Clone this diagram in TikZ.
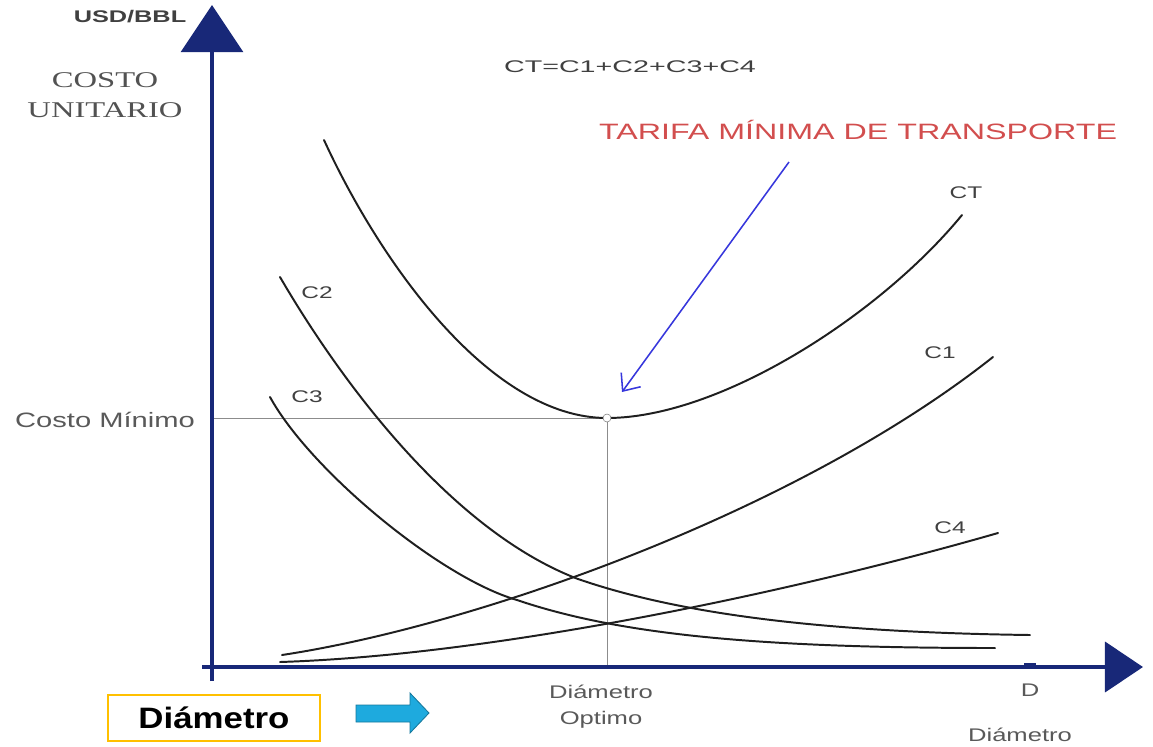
\documentclass[tikz,border=0pt]{standalone}
\usepackage{graphicx}
\usepackage{fontspec}
\setmainfont{Liberation Sans}
\newfontfamily\timesfont{Liberation Serif}
\usepackage{tikz}
\usetikzlibrary{arrows.meta, positioning}
\definecolor{axisblue}{RGB}{24,40,120}
\definecolor{tarifared}{RGB}{210,78,78}
\definecolor{pointblue}{RGB}{55,55,220}
\definecolor{boxorange}{RGB}{255,192,0}
\definecolor{arrowcyan}{RGB}{30,170,222}
\tikzset {
    axis/.style = {
        draw=axisblue,
        line width=2.8pt
    },
    yhead/.style = {
        -{Triangle[length=1.18cm, width=1.55cm]}
    },
    xhead/.style = {
        -{Triangle[length=0.95cm, width=1.25cm]}
    },
    curve/.style = {
        draw=black!88,
        line width=1.4pt,
        line cap=round
    },
    guide/.style = {
        draw=black!45,
        line width=0.6pt
    },
    pointer/.style = {
        draw=pointblue,
        line width=1.1pt,
        -{Straight Barb[length=3.5mm, width=6mm]}
    },
    dot/.style = {
        draw=black!50,
        fill=white,
        shape=circle,
        inner sep=0pt,
        minimum size=0.2cm
    },
    unitlbl/.style = {
        inner sep=0pt,
        text=black!75,
        xscale=1.5,
        font={\bfseries\fontsize{12}{14}\selectfont}
    },
    costlbl/.style = {
        inner sep=0pt,
        text=black!68,
        align=center,
        xscale=1.45,
        font={\timesfont\fontsize{16}{21}\selectfont}
    },
    formula/.style = {
        inner sep=0pt,
        text=black!75,
        xscale=1.7,
        font={\fontsize{12}{14}\selectfont}
    },
    title/.style = {
        inner sep=0pt,
        text=tarifared,
        xscale=1.45,
        font={\fontsize{15.8}{18}\selectfont}
    },
    curvelbl/.style = {
        inner sep=0pt,
        text=black!75,
        xscale=1.45,
        font={\fontsize{12}{14}\selectfont}
    },
    axislbl/.style = {
        inner sep=0pt,
        text=black!65,
        xscale=1.4,
        font={\fontsize{13}{15}\selectfont}
    },
    dbox/.style = {
        draw=boxorange,
        line width=1pt,
        minimum width=5.3cm,
        minimum height=1.15cm,
        inner sep=0pt,
        font={\bfseries\fontsize{21}{24}\selectfont}
    },
    blockarrow/.style = {
        draw=arrowcyan!70!black,
        fill=arrowcyan,
        line width=0.6pt,
        line join=miter
    }
}

\begin{document}
\begin{tikzpicture}[x=0.025cm, y=-0.025cm]
        \useasboundingbox (0,0) rectangle (1153,746);

        % Axes : origin, ends and the point of minimum cost
        \coordinate (ybot)    at (212,681);
        \coordinate (ytop)    at (212,5);
        \coordinate (xbeg)    at (202,667);
        \coordinate (xend)    at (1143,667);
        \coordinate (ymin)    at (212,418);
        \coordinate (xopt)    at (607,667);
        \coordinate (tickl)   at (1024,664);
        \coordinate (tickr)   at (1036,664);

        \path [guide]   (ymin)  --  (607,418)  --  (xopt);

        % Cost curves
        \draw [curve] (324,140) .. controls (380,262) and (490,418) .. (607,418)
                                .. controls (720,418) and (880,315) .. (962,215);
        \draw [curve] (282,655) .. controls (480,625) and (800,510) .. (993,357);
        \draw [curve] (280,277) .. controls (340,380) and (450,530) .. (578,579)
                                .. controls (668,610) and (800,632) .. (1030,635);
        \draw [curve] (270,397) .. controls (310,470) and (440,578) .. (517,600)
                                .. controls (620,635) and (760,648) .. (995,648);
        \draw [curve] (280,662) .. controls (500,655) and (800,590) .. (998,533);

        \path [axis, yhead]  (ybot)  --  (ytop);
        \path [axis, xhead]  (xbeg)  --  (xend);
        \path [axis, line width=2pt] (tickl) -- (tickr);

        \node [dot]                         (minpt)   at (607,418)  {};

        % Labels of the axes
        \node [unitlbl]                     (usd)     at (130,17)   {USD/BBL};
        \node [costlbl]                     (costo)   at (105,95)   {COSTO\\UNITARIO};
        \node [axislbl, xscale=1.0, font={\fontsize{14.8}{17}\selectfont}]
                                            (cmin)    at (105,420)  {Costo Mínimo};
        \node [axislbl]                     (dopt)    at (601,692)  {Diámetro};
        \node [axislbl, below=0.3cm of dopt] (opt)                  {Optimo};
        \node [axislbl]                     (dend)    at (1030,690) {D};
        \node [axislbl]                     (dname)   at (1020,735) {Diámetro};

        % Curve names, formula and title
        \node [formula]                     (sumct)   at (630,67)   {CT=C1+C2+C3+C4};
        \node [title]                       (tarifa)  at (858,130)  {TARIFA MÍNIMA DE TRANSPORTE};
        \node [curvelbl]                    (lct)     at (966,193)  {CT};
        \node [curvelbl]                    (lc1)     at (940,353)  {C1};
        \node [curvelbl]                    (lc2)     at (317,293)  {C2};
        \node [curvelbl]                    (lc3)     at (307,397)  {C3};
        \node [curvelbl]                    (lc4)     at (950,528)  {C4};

        \coordinate (pstart) at (789,162);
        \coordinate (pend)   at (622,392);
        \path [pointer]  (pstart)  --  (pend);

        % Legend at the bottom
        \node [dbox]                        (dlegend) at (214,718)  {\scalebox{1.18}[1]{Diámetro}};
        \draw [blockarrow] (356,705) -- (410,705) -- (410,693) -- (429,713)
                           -- (410,733) -- (410,722) -- (356,722) -- cycle;
    \end{tikzpicture}
\end{document}
